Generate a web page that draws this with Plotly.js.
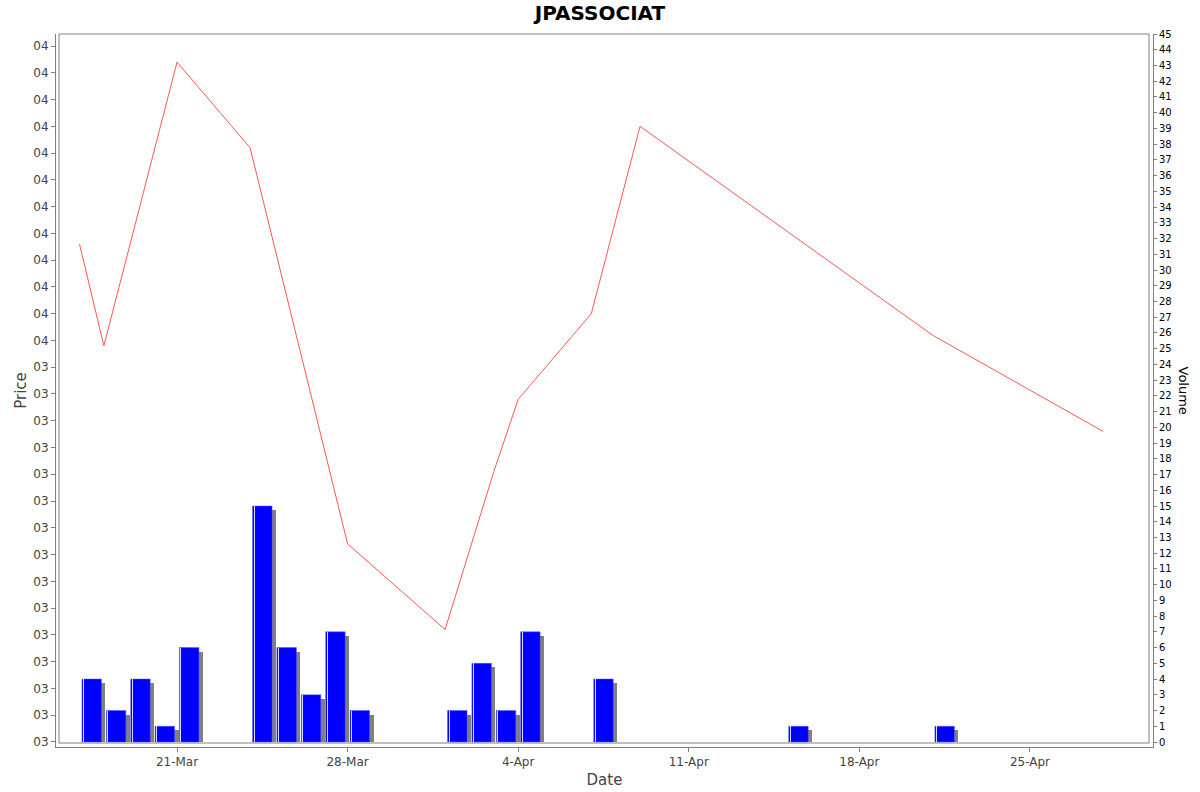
<!DOCTYPE html>
<html>
<head>
<meta charset="utf-8">
<script src="https://cdn.plot.ly/plotly-3.0.1.min.js"></script>
<style>
  html, body { margin: 0; padding: 0; background: #fff; }
  #chart { width: 1200px; height: 792px; }
</style>
</head>
<body>
<div id="chart"></div>
<script>
// volume bars
const volDates = ['2025-03-17', '2025-03-18', '2025-03-19', '2025-03-20', '2025-03-21',
                  '2025-03-24', '2025-03-25', '2025-03-26', '2025-03-27', '2025-03-28',
                  '2025-04-01', '2025-04-02', '2025-04-03', '2025-04-04', '2025-04-07',
                  '2025-04-15', '2025-04-21'];
const volumes = [4, 2, 4, 1, 6, 15, 6, 3, 7, 2, 2, 5, 2, 7, 4, 1, 1];

// closing price line
const priceDates = ['2025-03-17', '2025-03-18', '2025-03-21', '2025-03-24', '2025-03-28',
                    '2025-04-01', '2025-04-03', '2025-04-04', '2025-04-07', '2025-04-09',
                    '2025-04-21', '2025-04-28'];
const prices = [3.536, 3.498, 3.604, 3.572, 3.424, 3.392, 3.451, 3.478, 3.510, 3.580, 3.502, 3.466];

// left axis ticks: 3.35 .. 3.61 step 0.01, printed as whole rupees "00"
const priceTicks = Array.from(Array(27), (el, i) => Math.round((3.35 + i * 0.01) * 100) / 100);
const priceTickText = priceTicks.map(v => (v >= 3.5 ? '04' : '03'));

const DAY = 86400000;
const PX_DAY = 24.37;          // px per day on x
const PX_VOL = 15.733;         // px per volume unit
const barOff = 0.1 * DAY;
const barW = 0.8 * DAY;

// grey shadow behind each bar (4px right, 4px down)
const shadow = {
    type: 'bar',
    x: volDates,
    y: volumes.map(v => v - 4 / PX_VOL),
    offset: barOff + 4 / PX_DAY * DAY,
    width: barW,
    marker: { color: '#808080', line: { width: 0 } },
    hoverinfo: 'skip',
    showlegend: false,
    yaxis: 'y'
};

const bars = {
    type: 'bar',
    name: 'Volume',
    x: volDates,
    y: volumes,
    offset: barOff,
    width: barW,
    marker: { color: '#0000ff', line: { color: '#5555ff', width: 0.5 } },
    showlegend: false,
    yaxis: 'y'
};

// thin light stripe near the left edge of each bar
const stripe = {
    type: 'bar',
    x: volDates,
    y: volumes,
    offset: barOff + 1 / PX_DAY * DAY,
    width: 1 / PX_DAY * DAY,
    marker: { color: 'rgba(255,255,255,0.85)', line: { width: 0 } },
    hoverinfo: 'skip',
    showlegend: false,
    yaxis: 'y'
};

const priceLine = {
    type: 'scatter',
    mode: 'lines',
    name: 'Price',
    x: priceDates,
    y: prices,
    line: { color: 'rgb(255,85,85)', width: 1 },
    showlegend: false,
    yaxis: 'y2'
};

const FONT = 'DejaVu Sans, sans-serif';

const layout = {
    width: 1200,
    height: 792,
    margin: { l: 56, r: 47, t: 34, b: 45 },
    paper_bgcolor: '#fff',
    plot_bgcolor: '#fff',
    font: { family: FONT, color: '#444' },
    barmode: 'overlay',
    bargap: 0,
    title: {
        text: '<b>JPASSOCIAT</b>',
        font: { family: FONT, size: 20, color: '#000' },
        x: 0.5, xanchor: 'center',
        y: 0.984, yanchor: 'middle'
    },
    xaxis: {
        type: 'date',
        range: ['2025-03-16 00:50', '2025-04-30 01:10'],
        tick0: '2025-03-21',
        dtick: 7 * DAY,
        tickformat: '%-d-%b',
        ticks: 'outside', ticklen: 4, tickcolor: '#808080',
        tickfont: { family: FONT, size: 12, color: '#444' },
        showline: true, linecolor: '#808080', linewidth: 1,
        showgrid: false, zeroline: false,
        title: { text: 'Date', font: { family: FONT, size: 15, color: '#444' }, standoff: 6 }
    },
    // volume axis on the right
    yaxis: {
        side: 'right',
        range: [-0.318, 45.0],
        tickmode: 'linear', tick0: 0, dtick: 1,
        ticks: 'outside', ticklen: 3, tickcolor: '#808080',
        tickfont: { family: FONT, size: 10, color: '#000' },
        showline: true, linecolor: '#808080', linewidth: 1,
        showgrid: false, zeroline: false
    },
    // price axis on the left
    yaxis2: {
        side: 'left',
        overlaying: 'y',
        range: [3.3481, 3.6145],
        tickmode: 'array',
        tickvals: priceTicks,
        ticktext: priceTickText,
        ticks: 'outside', ticklen: 4, tickcolor: '#808080',
        tickfont: { family: FONT, size: 12, color: '#444' },
        showline: true, linecolor: '#808080', linewidth: 1,
        showgrid: false, zeroline: false,
        title: { text: 'Price', font: { family: FONT, size: 15, color: '#444' }, standoff: 3 }
    },
    shapes: [{
        // plot frame, a few px inside the offset axes
        type: 'rect', xref: 'paper', yref: 'paper',
        x0: 3 / 1097, x1: 1093 / 1097, y0: 4 / 713, y1: 1,
        line: { color: '#808080', width: 1 },
        layer: 'below'
    }],
    annotations: [{
        text: 'Volume',
        xref: 'paper', yref: 'paper',
        x: 1.0, xshift: 30, y: 0.5,
        xanchor: 'center', yanchor: 'middle',
        textangle: 90,
        showarrow: false,
        font: { family: FONT, size: 13, color: '#000' }
    }]
};

Plotly.newPlot('chart', [shadow, bars, stripe, priceLine], layout, { displayModeBar: false, staticPlot: true });
</script>
</body>
</html>
